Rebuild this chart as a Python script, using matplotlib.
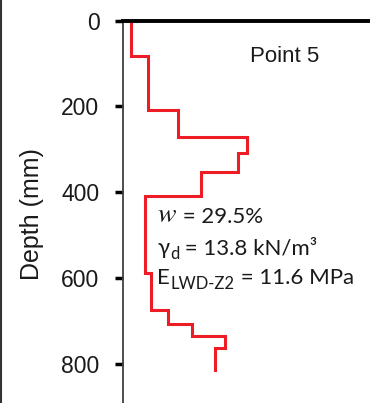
import matplotlib
matplotlib.use('Agg')
import matplotlib.pyplot as plt
from matplotlib.lines import Line2D

# layer boundaries (mm) and the value held inside each layer
layer_tops = [0, 82, 208, 270, 309, 352, 408, 588, 674, 707, 735, 763]
layer_bottoms = [82, 208, 270, 309, 352, 408, 588, 674, 707, 735, 763, 814]
layer_values = [3.2, 10.0, 22.1, 50.1, 46.4, 31.6, 8.9, 11.2, 18.1, 28.1, 41.3, 37.2]
depth_ticks = [0, 200, 400, 600, 800]

plt.rcParams['mathtext.fontset'] = 'stix'

fig = plt.figure(figsize=(3.7, 4.03), dpi=100)
ax = fig.add_axes([123 / 370, 0, 247 / 370, 1 - 20.5 / 403])

# build the step profile: vertical inside a layer, horizontal at each boundary
xs, ys = [], []
for top, bot, v in zip(layer_tops, layer_bottoms, layer_values):
    xs += [v, v]
    ys += [top, bot]
ax.plot(xs, ys, color='#ee1c25', lw=2.2, solid_joinstyle='miter')

ax.set_xlim(0, 100)
ax.set_ylim(890, 0)
ax.set_yticks(depth_ticks)
ax.set_xticks([])
ax.tick_params(axis='y', direction='out', length=6, width=2.5, pad=11,
               labelsize=16.5, color='black')
for lab in ax.get_yticklabels():
    lab.set_fontfamily('Liberation Sans')
    lab.set_color('#1a1a1a')

ax.spines['right'].set_visible(False)
ax.spines['bottom'].set_visible(False)
ax.spines['left'].set_color('#404040')
ax.spines['left'].set_linewidth(1.3)
ax.spines['top'].set_color('black')
ax.spines['top'].set_linewidth(2.8)

fig.text(32 / 370, 1 - 214 / 403, 'Depth (mm)', rotation=90, ha='center', va='center',
         fontsize=18, family='Liberation Sans', color='#1a1a1a')

ax.text(51.4, 96.6, 'Point 5', fontsize=16, family='Liberation Sans',
        color='#1a1a1a', va='baseline')

fam = ['Lato', 'DejaVu Sans']
tc = '#1a1a1a'


def chain_label(x, y, main, sub, rest, main_size=16):
    # main symbol, an optional subscript, then the value, all on one baseline
    t1 = ax.text(x, y, main, fontsize=main_size, family=fam, color=tc, va='baseline')
    prev = t1
    if sub:
        prev = ax.annotate(sub, xy=(1, 0), xycoords=t1, xytext=(0.5, -2.5),
                           textcoords='offset points', fontsize=12, family=fam,
                           color=tc, va='bottom', ha='left')
    ax.annotate(rest, xy=(1, 0), xycoords=(prev, t1), xytext=(0, 0),
                textcoords='offset points', fontsize=16, family=fam,
                color=tc, va='bottom', ha='left')


chain_label(13.8, 468, r'$w$', '', ' = 29.5%', main_size=20)
chain_label(13.8, 544, 'γ', 'd', ' = 13.8 kN/m³')
chain_label(13.8, 614, 'E', 'LWD-Z2', ' = 11.6 MPa')

# frame edge on the left of the figure
fig.add_artist(Line2D([1 / 370, 1 / 370], [0, 1], transform=fig.transFigure,
                      color='#333333', lw=1.5))

fig.savefig('out.png', dpi=100)
